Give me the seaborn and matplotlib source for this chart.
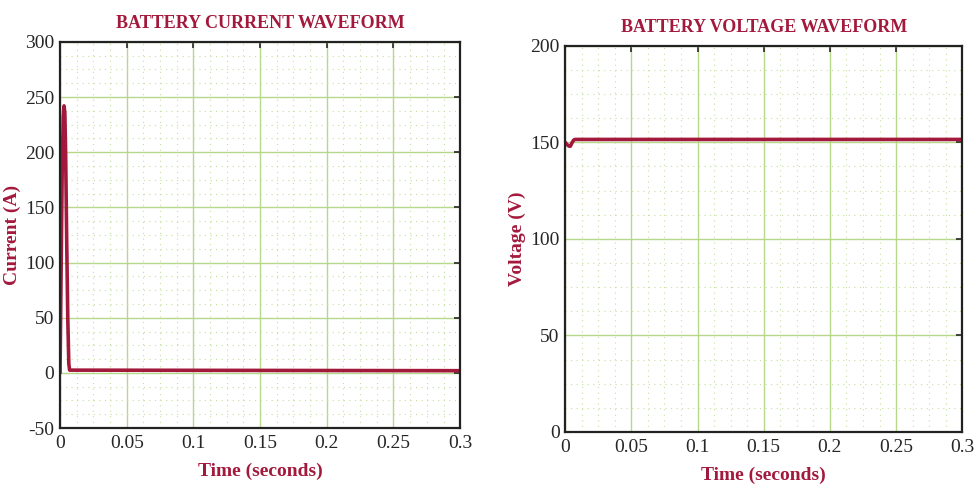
import numpy as np
import pandas as pd
import matplotlib
matplotlib.use("Agg")
import matplotlib.pyplot as plt
from matplotlib.ticker import MultipleLocator
import seaborn as sns

# ── data ────────────────────────────────────────────────────────────────────
current_time = [0.0, 0.0008, 0.0016, 0.0024, 0.003, 0.0036, 0.0042, 0.005, 0.0058, 0.0066, 0.0072, 0.3]
current_amp = [0.0, 90.0, 180.0, 232.0, 242.0, 236.0, 200.0, 120.0, 50.0, 8.0, 2.5, 2.0]

voltage_time = [0.0, 0.0015, 0.003, 0.004, 0.005, 0.0065, 0.0075, 0.3]
voltage_val = [150.0, 148.8, 148.0, 148.0, 149.5, 151.2, 151.5, 151.5]

RED = "#a3193c"
GRID_MAJOR = "#b7d88a"
GRID_MINOR = "#c5e0a0"

sns.set_style("white")
plt.rcParams["font.family"] = ["Liberation Serif", "DejaVu Serif"]
plt.rcParams["axes.unicode_minus"] = False

fig = plt.figure(figsize=(9.76, 4.87), dpi=100)
ax1 = fig.add_axes([0.0615, 0.121, 0.410, 0.793])
ax2 = fig.add_axes([0.579, 0.113, 0.407, 0.793])

df_i = pd.DataFrame({"t": current_time, "i": current_amp})
df_v = pd.DataFrame({"t": voltage_time, "v": voltage_val})

sns.lineplot(data=df_i, x="t", y="i", ax=ax1, color=RED, linewidth=2.6)
sns.lineplot(data=df_v, x="t", y="v", ax=ax2, color=RED, linewidth=2.6)


def style_axis(ax, ylim, ystep, title, ylabel):
    ax.set_xlim(0, 0.3)
    ax.set_ylim(*ylim)
    ax.xaxis.set_major_locator(MultipleLocator(0.05))
    ax.xaxis.set_minor_locator(MultipleLocator(0.0125))
    ax.yaxis.set_major_locator(MultipleLocator(ystep))
    ax.yaxis.set_minor_locator(MultipleLocator(ystep / 4))
    ax.xaxis.set_major_formatter(plt.FuncFormatter(lambda v, p: f"{v:g}"))
    ax.grid(which="major", color=GRID_MAJOR, linewidth=1.0)
    ax.grid(which="minor", color=GRID_MINOR, linewidth=0.8, linestyle=(0, (1, 4)))
    ax.set_axisbelow(True)
    ax.tick_params(which="major", direction="in", length=4, width=1.2,
                   top=True, right=True, labelsize=14)
    ax.tick_params(axis="x", which="major", pad=5)
    ax.tick_params(axis="y", which="major", pad=4)
    ax.tick_params(which="minor", length=0)
    for s in ax.spines.values():
        s.set_color("#222222")
        s.set_linewidth(1.6)
    ax.set_title(title, color=RED, fontweight="bold", fontsize=13, pad=10)
    ax.set_xlabel("Time (seconds)", color=RED, fontweight="bold", fontsize=14, labelpad=8)
    ax.set_ylabel(ylabel, color=RED, fontweight="bold", fontsize=14, labelpad=3)


style_axis(ax1, (-50, 300), 50, "BATTERY CURRENT WAVEFORM", "Current (A)")
style_axis(ax2, (0, 200), 50, "BATTERY VOLTAGE WAVEFORM", "Voltage (V)")

fig.savefig("out.png", dpi=100)
